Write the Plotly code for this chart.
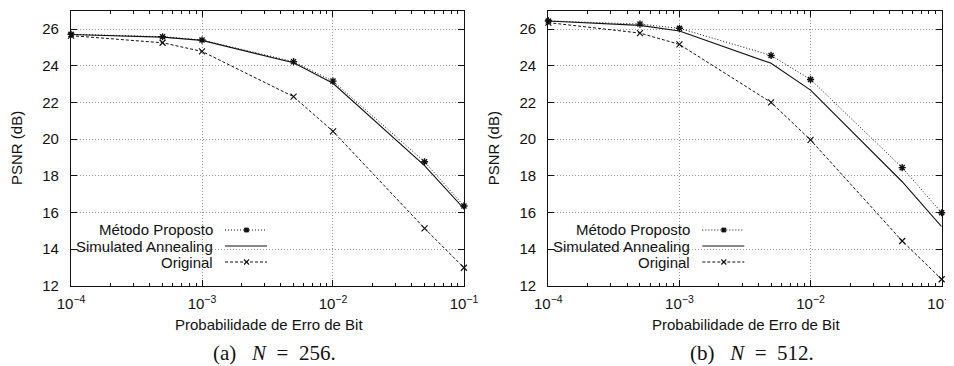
import plotly.graph_objects as go

# ---------------- data ----------------
ber = [1e-4, 5e-4, 1e-3, 5e-3, 1e-2, 5e-2, 1e-1]
psnr_mp_256 = [25.71, 25.58, 25.40, 24.22, 23.16, 18.76, 16.35]
psnr_sa_256 = [25.70, 25.56, 25.38, 24.16, 23.04, 18.55, 16.20]
psnr_orig_256 = [25.64, 25.25, 24.78, 22.31, 20.42, 15.13, 12.98]
psnr_mp_512 = [26.44, 26.27, 26.04, 24.56, 23.25, 18.44, 15.98]
psnr_sa_512 = [26.44, 26.20, 25.89, 24.13, 22.67, 17.67, 15.22]
psnr_orig_512 = [26.35, 25.78, 25.16, 22.00, 19.95, 14.44, 12.35]

series_names = ["Método Proposto", "Simulated Annealing", "Original"]
x_tickvals = [1e-4, 1e-3, 1e-2, 1e-1]
x_ticktext = ["10<sup>−4</sup>", "10<sup>−3</sup>", "10<sup>−2</sup>", "10<sup>−1</sup>"]
x_minor_ticks = [m * d for d in (1e-4, 1e-3, 1e-2) for m in range(2, 10)]
y_tickvals = [12, 14, 16, 18, 20, 22, 24, 26]
x_title = "Probabilidade de Erro de Bit"
y_title = "PSNR (dB)"
captions = ["(a)&nbsp;&nbsp;&nbsp;<i>N</i>&nbsp;&nbsp;=&nbsp;&nbsp;256.",
            "(b)&nbsp;&nbsp;&nbsp;<i>N</i>&nbsp;&nbsp;=&nbsp;&nbsp;512."]

# ---------------- layout helpers ----------------
# the page body has an 8px margin, so the figure is drawn 8px in from the window corner
OFF = 8
W, H = 954 - OFF, 366 - OFF
def PX(x):
    return (x - OFF) / W
def PY(y):
    return 1 - (y - OFF) / H

panels = [
    dict(left=71, right=464, data=(psnr_mp_256, psnr_sa_256, psnr_orig_256)),
    dict(left=548.3, right=941.7, data=(psnr_mp_512, psnr_sa_512, psnr_orig_512)),
]
top, bottom = 10.7, 285.7

SANS = "Liberation Sans, Arial, sans-serif"
SERIF = "Liberation Serif, Times New Roman, serif"
BLACK = "#111111"

styles = [
    dict(line=dict(color=BLACK, width=1, dash="1px,2px"),
         marker=dict(symbol="asterisk-open", size=6, line=dict(color=BLACK, width=1.4)), mode="lines+markers"),
    dict(line=dict(color=BLACK, width=1.1), mode="lines"),
    dict(line=dict(color=BLACK, width=1, dash="3px,2px"),
         marker=dict(symbol="x-thin-open", size=6, line=dict(color=BLACK, width=1.2)), mode="lines+markers"),
]

fig = go.Figure()
shapes = []
annotations = []

for i, p in enumerate(panels):
    xa = "x" if i == 0 else "x2"
    ya = "y" if i == 0 else "y2"
    for k, vals in enumerate(p["data"]):
        st = styles[k]
        tr = dict(x=ber, y=vals, name=series_names[k], xaxis=xa, yaxis=ya,
                  mode=st["mode"], line=st["line"], showlegend=False, cliponaxis=False)
        if "marker" in st:
            tr["marker"] = st["marker"]
        fig.add_trace(go.Scatter(**tr))

    axkey = "xaxis" if i == 0 else "xaxis2"
    aykey = "yaxis" if i == 0 else "yaxis2"
    fig.update_layout(**{
        axkey: dict(
            type="log", range=[-4.0003, -0.9997], domain=[PX(p["left"]), PX(p["right"])],
            anchor=ya, tickmode="array", tickvals=x_tickvals, ticktext=x_ticktext,
            ticks="inside", ticklen=6, tickcolor=BLACK, tickwidth=1,
            minor=dict(tickmode="array", tickvals=x_minor_ticks, ticks="inside", ticklen=3,
                       tickcolor=BLACK, tickwidth=1, showgrid=False),
            showline=True, linecolor=BLACK, linewidth=1.3, mirror="allticks",
            showgrid=True, gridcolor="#9a9a9a", griddash="1px,2px", gridwidth=1,
            zeroline=False, tickfont=dict(family=SANS, size=15, color=BLACK),
            ticklabelstandoff=4, ticklabeloverflow="allow", automargin=False,
        ),
        aykey: dict(
            range=[12, 27], domain=[PY(bottom), PY(top)], anchor=xa,
            tickmode="array", tickvals=y_tickvals, ticks="inside", ticklen=6, tickcolor=BLACK,
            showline=True, linecolor=BLACK, linewidth=1.3, mirror="allticks",
            showgrid=True, gridcolor="#9a9a9a", griddash="1px,2px", gridwidth=1,
            zeroline=False, tickfont=dict(family=SANS, size=15, color=BLACK),
            ticklabelstandoff=8, automargin=False,
        ),
    })

    L = p["left"]
    cx = (p["left"] + p["right"]) / 2
    annotations.append(dict(text=x_title, x=PX(cx + 1), y=PY(324), xref="paper", yref="paper",
                            showarrow=False, font=dict(family=SANS, size=15, color=BLACK),
                            xanchor="center", yanchor="middle"))
    annotations.append(dict(text=y_title, x=PX(L - 54), y=PY(148), xref="paper", yref="paper",
                            showarrow=False, textangle=-90, font=dict(family=SANS, size=15, color=BLACK),
                            xanchor="center", yanchor="middle"))
    annotations.append(dict(text=captions[i], x=PX(cx + 7), y=PY(353), xref="paper", yref="paper",
                            showarrow=False, font=dict(family=SERIF, size=21, color=BLACK),
                            xanchor="center", yanchor="middle"))

    # gnuplot-like legend (text on the left, key on the right)
    shapes.append(dict(type="rect", xref="paper", yref="paper", layer="between",
                       x0=PX(L + 1), x1=PX(L + 205), y0=PY(220), y1=PY(277),
                       fillcolor="white", line=dict(width=0)))
    rows = [230, 246, 262]
    for k, ry in enumerate(rows):
        annotations.append(dict(text=series_names[k], x=PX(L + 144), y=PY(ry), xref="paper", yref="paper",
                                showarrow=False, font=dict(family=SANS, size=15, color=BLACK),
                                xanchor="right", yanchor="middle"))
        dash = {0: "1px,2px", 1: "solid", 2: "3px,2px"}[k]
        shapes.append(dict(type="line", xref="paper", yref="paper", layer="above",
                           x0=PX(L + 154), x1=PX(L + 196), y0=PY(ry), y1=PY(ry),
                           line=dict(color=BLACK, width=1.1, dash=dash)))
        mx = L + 175.5
        if k == 0:
            shapes.append(dict(type="rect", xref="paper", yref="paper", layer="above",
                               x0=PX(mx - 2), x1=PX(mx + 2), y0=PY(ry + 2), y1=PY(ry - 2),
                               fillcolor=BLACK, line=dict(color=BLACK, width=0.8)))
        elif k == 2:
            path = (f"M {PX(mx-2.5)} {PY(ry-2.5)} L {PX(mx+2.5)} {PY(ry+2.5)} "
                    f"M {PX(mx-2.5)} {PY(ry+2.5)} L {PX(mx+2.5)} {PY(ry-2.5)}")
            shapes.append(dict(type="path", xref="paper", yref="paper", layer="above",
                               path=path, line=dict(color=BLACK, width=1.1)))

fig.update_layout(
    width=W, height=H, margin=dict(l=0, r=0, t=0, b=0, pad=0, autoexpand=False),
    paper_bgcolor="white", plot_bgcolor="white", template="none",
    shapes=shapes, annotations=annotations, showlegend=False,
    font=dict(family=SANS, color=BLACK),
)

fig.write_html("out.html")
